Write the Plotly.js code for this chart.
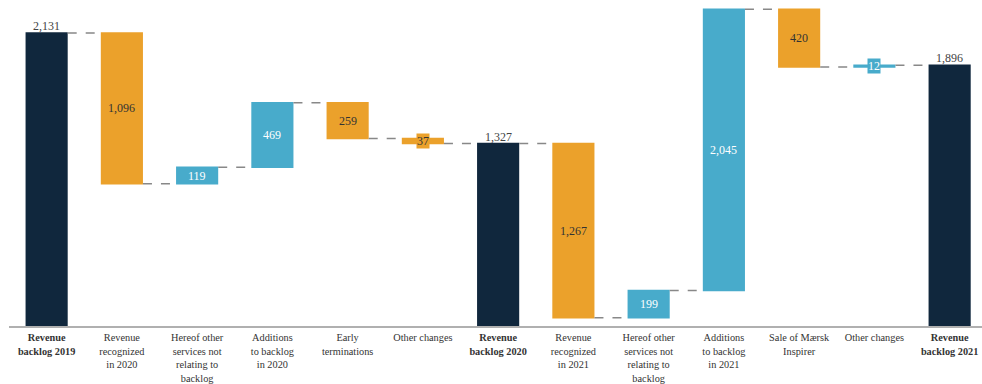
<!DOCTYPE html>
<html><head><meta charset="utf-8">
<script src="https://cdn.plot.ly/plotly-3.0.1.min.js"></script>
<style>html,body{margin:0;padding:0;background:#fff}#c{width:982px;height:384px}</style>
</head><body><div id="c"></div>
<script>
const categories = [
  "<b>Revenue<br>backlog 2019</b>",
  "Revenue<br>recognized<br>in 2020",
  "Hereof other<br>services not<br>relating to<br>backlog",
  "Additions<br>to backlog<br>in 2020",
  "Early<br>terminations",
  "Other changes",
  "<b>Revenue<br>backlog 2020</b>",
  "Revenue<br>recognized<br>in 2021",
  "Hereof other<br>services not<br>relating to<br>backlog",
  "Additions<br>to backlog<br>in 2021",
  "Sale of Mærsk<br>Inspirer",
  "Other changes",
  "<b>Revenue<br>backlog 2021</b>"
];
const measures = ["absolute","relative","relative","relative","relative","relative","total","relative","relative","relative","relative","relative","total"];
const values = [2131, -1096, 119, 469, -259, -37, 1327, -1267, 199, 2045, -420, 12, 1896];
const labels = ["2,131","1,096","119","469","259","37","1,327","1,267","199","2,045","420","12","1,896"];
const smallLabel = [false,false,false,false,false,true,false,false,false,false,false,true,false];

const NAVY = "#10273d", ORANGE = "#eba12b", BLUE = "#48abcb";
const SERIF = "Liberation Serif";
const xs = categories.map((_, i) => i);

const annotations = [];
let cum = 0;
for (let i = 0; i < values.length; i++) {
  const m = measures[i];
  if (m === "absolute" || m === "total") {
    cum = (m === "absolute") ? values[i] : cum;
    annotations.push({x: xs[i], y: cum, text: labels[i], showarrow: false, yanchor: "bottom",
      font: {family: SERIF, size: 12, color: "#444"}, yshift: -2});
  } else {
    const start = cum; cum += values[i];
    const mid = (start + cum) / 2;
    const pos = values[i] > 0;
    const a = {x: xs[i], y: mid, text: labels[i], showarrow: false, yanchor: "middle",
      font: {family: SERIF, size: 12, color: pos ? "#ffffff" : "#333333"}};
    if (smallLabel[i]) { a.bgcolor = pos ? BLUE : ORANGE; a.borderpad = 0; }
    annotations.push(a);
  }
}

const trace = {
  type: "waterfall", x: xs, y: values, measure: measures,
  textposition: "none", hoverinfo: "none",
  increasing: {marker: {color: BLUE}},
  decreasing: {marker: {color: ORANGE}},
  totals: {marker: {color: NAVY}},
  connector: {mode: "between", line: {color: "#888", width: 1.5, dash: "dash"}}
};

const layout = {
  width: 982, height: 384,
  margin: {l: 9, r: 0, t: 0, b: 58},
  paper_bgcolor: "#fff", plot_bgcolor: "#fff",
  showlegend: false, waterfallgap: 0.44,
  xaxis: {range: [-0.5, 12.43], tickvals: xs, ticktext: categories, showgrid: false, zeroline: false,
    showline: true, linecolor: "#b0b0b0", linewidth: 2, ticks: "", tickangle: 0,
    ticklabelstandoff: 1,
    tickfont: {family: SERIF, size: 10.3, color: "#333"}},
  yaxis: {range: [0, 2371], visible: false, showgrid: false, zeroline: false},
  annotations: annotations
};
Plotly.newPlot("c", [trace], layout, {staticPlot: true});
</script></body></html>
